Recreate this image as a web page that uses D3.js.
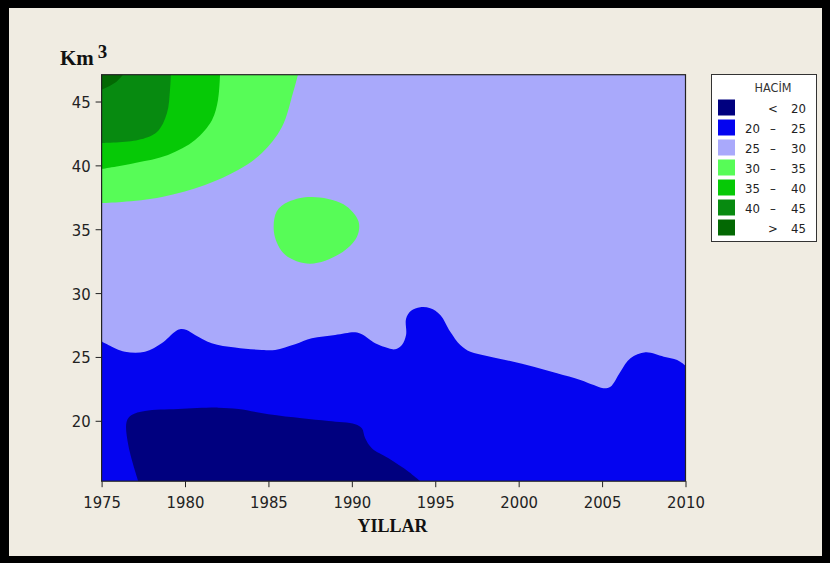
<!DOCTYPE html>
<html>
<head>
<meta charset="utf-8">
<script src="https://cdn.jsdelivr.net/npm/d3@7"></script>
<style>
  html, body { margin: 0; padding: 0; background: #000; }
  svg { display: block; }
</style>
</head>
<body>
<div id="chart"></div>
<script>
// axis ticks
const yearTicks = [1975, 1980, 1985, 1990, 1995, 2000, 2005, 2010];
const volumeTicks = [20, 25, 30, 35, 40, 45];
const yearRange = [1975, 2010];
const volumeRange = [15.27, 47.1];

// legend
const legendColors = ["#00007f", "#0404f0", "#a9a9fb", "#57fc57", "#06c906", "#078a10", "#036803"];
const legendLow = ["", "20", "25", "30", "35", "40", ""];
const legendSym = ["<", "\u2013", "\u2013", "\u2013", "\u2013", "\u2013", ">"];
const legendHigh = ["20", "25", "30", "35", "40", "45", "45"];

// contour lines, [year, km3]
const line25 = [[1975.0, 26.2], [1975.4, 25.94], [1976.4, 25.41], [1977.6, 25.41], [1978.6, 26.07],
  [1979.4, 26.98], [1979.7, 27.17], [1980.1, 27.11], [1980.6, 26.72], [1981.6, 26.07], [1983.0, 25.73],
  [1984.6, 25.55], [1985.4, 25.55], [1986.6, 25.99], [1987.6, 26.46], [1989.0, 26.72], [1990.2, 26.93],
  [1990.6, 26.77], [1991.4, 26.07], [1992.2, 25.68], [1992.6, 25.6], [1993.0, 25.94], [1993.25, 26.72],
  [1993.25, 28.0], [1993.55, 28.62], [1994.1, 28.89], [1994.7, 28.81], [1995.3, 28.29], [1995.9, 26.98],
  [1996.5, 25.94], [1997.1, 25.41], [1998.1, 25.08], [1999.5, 24.68], [2000.9, 24.24], [2002.3, 23.72],
  [2003.7, 23.2], [2004.5, 22.8], [2005.07, 22.55], [2005.5, 22.67], [2006.1, 23.85], [2006.7, 24.89],
  [2007.6, 25.36], [2008.7, 25.02], [2009.5, 24.76], [2010.0, 24.32]];

const line20 = [[1977.2, 15.27], [1976.6, 18.1], [1976.5, 19.93], [1976.8, 20.45], [1977.6, 20.77],
  [1979.6, 20.92], [1982.0, 21.03], [1983.2, 20.92], [1985.0, 20.51], [1987.0, 20.2], [1988.6, 19.98],
  [1990.2, 19.73], [1990.6, 19.41], [1990.8, 18.63], [1991.2, 17.85], [1992.2, 17.06], [1993.4, 16.01],
  [1994.1, 15.27]];

const line30 = [[1986.77, 47.1], [1986.47, 45.67], [1985.81, 43.01], [1984.61, 40.97], [1983.18, 39.64],
  [1981.2, 38.47], [1978.62, 37.53], [1976.22, 37.14], [1975.0, 37.06]];
const line35 = [[1982.1, 47.1], [1981.98, 45.13], [1981.62, 43.56], [1980.6, 41.99], [1978.98, 40.82],
  [1977.0, 40.19], [1975.0, 39.72]];
const line40 = [[1979.15, 47.1], [1979.1, 45.91], [1978.92, 44.11], [1978.32, 42.62], [1977.18, 41.99],
  [1975.0, 41.76]];
const line45 = [[1976.28, 47.1], [1975.8, 46.46], [1975.0, 45.91]];

const island30 = [[1987.6, 37.53], [1989.5, 36.95], [1990.4, 35.6], [1990.3, 34.4], [1989.3, 33.1],
  [1987.5, 32.3], [1986.0, 33.0], [1985.35, 34.6], [1985.5, 36.4], [1986.2, 37.15]];

const W = 830, H = 563;
const plot = { left: 101.6, right: 685.5, top: 74.7, bottom: 481.2 };

const svg = d3.select("#chart").append("svg").attr("width", W).attr("height", H);

// frame
svg.append("rect").attr("width", W).attr("height", H).attr("fill", "#000");
svg.append("rect").attr("x", 9).attr("y", 8).attr("width", 813).attr("height", 548).attr("fill", "#f0ece2");

const x = d3.scaleLinear().domain(yearRange).range([plot.left, plot.right]);
const y = d3.scaleLinear().domain(volumeRange).range([plot.bottom, plot.top]);

svg.append("clipPath").attr("id", "plotclip")
  .append("rect")
  .attr("x", plot.left).attr("y", plot.top)
  .attr("width", plot.right - plot.left).attr("height", plot.bottom - plot.top);

const g = svg.append("g").attr("clip-path", "url(#plotclip)");

const curve = d3.line().x(d => x(d[0])).y(d => y(d[1])).curve(d3.curveCatmullRom.alpha(0.5));
const corner = (yr, v) => `L${x(yr)},${y(v)}`;

// 25-30 fills the background
g.append("rect")
  .attr("x", plot.left).attr("y", plot.top)
  .attr("width", plot.right - plot.left).attr("height", plot.bottom - plot.top)
  .attr("fill", legendColors[2]);

// 20-25 below line25
g.append("path")
  .attr("d", curve(line25) + corner(yearRange[1], volumeRange[0]) + corner(yearRange[0], volumeRange[0]) + "Z")
  .attr("fill", legendColors[1]);

// < 20
g.append("path")
  .attr("d", curve(line20) + "Z")
  .attr("fill", legendColors[0]);

// top-left greens
[line30, line35, line40, line45].forEach((ln, i) => {
  g.append("path")
    .attr("d", curve(ln) + corner(yearRange[0], volumeRange[1]) + "Z")
    .attr("fill", legendColors[3 + i]);
});

g.append("path")
  .attr("d", d3.line().x(d => x(d[0])).y(d => y(d[1])).curve(d3.curveCatmullRomClosed.alpha(0.5))(island30))
  .attr("fill", legendColors[3]);

// plot border
svg.append("rect")
  .attr("x", plot.left).attr("y", plot.top)
  .attr("width", plot.right - plot.left).attr("height", plot.bottom - plot.top)
  .attr("fill", "none").attr("stroke", "#222").attr("stroke-width", 1.2);

// axes
const xAxis = svg.append("g")
  .attr("transform", `translate(0,${plot.bottom})`)
  .call(d3.axisBottom(x).tickValues(yearTicks).tickFormat(d3.format("d")).tickSize(6).tickSizeOuter(0));
const yAxis = svg.append("g")
  .attr("transform", `translate(${plot.left},0)`)
  .call(d3.axisLeft(y).tickValues(volumeTicks).tickSize(6).tickSizeOuter(0));

[xAxis, yAxis].forEach(a => {
  a.select(".domain").remove();
  a.selectAll("line").attr("stroke", "#222");
  a.selectAll("text")
    .style("font-family", "'DejaVu Sans Condensed', 'DejaVu Sans', sans-serif")
    .style("font-size", "16.5px")
    .attr("fill", "#222");
});
xAxis.selectAll("text").attr("dy", "1.05em");
yAxis.selectAll("text").attr("x", -11).attr("dy", "0.36em");

// axis titles
svg.append("text")
  .attr("x", (plot.left + plot.right) / 2 - 1)
  .attr("y", 532)
  .attr("text-anchor", "middle")
  .style("font-family", "'Liberation Serif', 'Times New Roman', serif")
  .style("font-weight", "bold")
  .style("font-size", "18px")
  .attr("fill", "#111")
  .text("YILLAR");

const km = svg.append("text")
  .attr("x", 60).attr("y", 65)
  .style("font-family", "'Liberation Serif', 'Times New Roman', serif")
  .style("font-weight", "bold")
  .attr("fill", "#111");
km.append("tspan").style("font-size", "21px").text("Km");
km.append("tspan").attr("dx", 4).attr("dy", -7).style("font-size", "19px").text("3");

// legend
const lg = svg.append("g");
lg.append("rect")
  .attr("x", 711.5).attr("y", 74.5).attr("width", 105).attr("height", 167)
  .attr("fill", "#fff").attr("stroke", "#333").attr("stroke-width", 1);

const legendFont = "'DejaVu Sans Condensed', 'DejaVu Sans', sans-serif";
lg.append("text")
  .attr("x", 773).attr("y", 92)
  .attr("text-anchor", "middle")
  .style("font-family", legendFont).style("font-size", "12.5px")
  .attr("fill", "#333")
  .text("HACİM");

const rowY = d3.scaleLinear().domain([0, 6]).range([99.5, 219.5]);
legendColors.forEach((c, i) => {
  const ry = rowY(i);
  lg.append("rect").attr("x", 718).attr("y", ry).attr("width", 17).attr("height", 16).attr("fill", c);
  const t = (tx, anchor, s) => lg.append("text")
    .attr("x", tx).attr("y", ry + 13)
    .attr("text-anchor", anchor)
    .style("font-family", legendFont).style("font-size", "13px")
    .attr("fill", "#222")
    .text(s);
  if (legendLow[i]) t(760, "end", legendLow[i]);
  t(773, "middle", legendSym[i]);
  t(806, "end", legendHigh[i]);
});
</script>
</body>
</html>
